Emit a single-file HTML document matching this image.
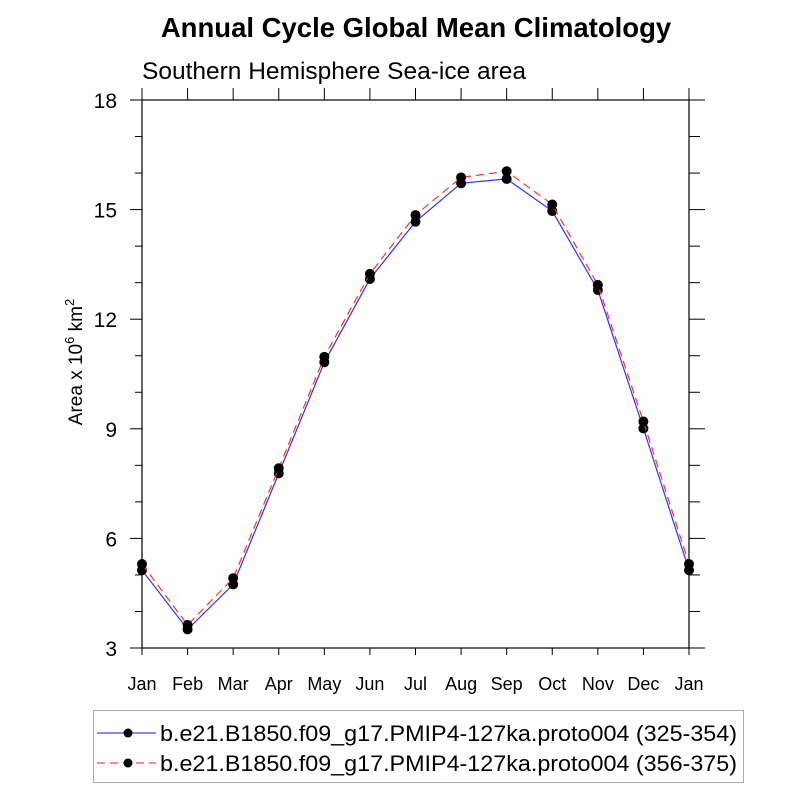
<!DOCTYPE html>
<html><head><meta charset="utf-8"><style>
body{margin:0;background:#fff;}
svg text{font-family:"Liberation Sans",sans-serif;fill:#000;}
</style></head><body>
<svg id="chart" width="800" height="800" viewBox="0 0 800 800">
<text x="416" y="37" text-anchor="middle" font-size="27.5" font-weight="bold">Annual Cycle Global Mean Climatology</text>
<text x="142" y="79" font-size="24.5">Southern Hemisphere Sea-ice area</text>
<g id="axes"></g>
<g id="series"></g>
<text transform="translate(82,362) rotate(-90)" text-anchor="middle" font-size="19">Area x 10<tspan dy="-8" font-size="13">6</tspan><tspan dy="8"> km</tspan><tspan dy="-8" font-size="13">2</tspan></text>
<g>
<rect x="93.5" y="710.5" width="650" height="72" fill="none" stroke="#aaa"/>
<line x1="97" y1="733" x2="156" y2="733" stroke="#4040ff" stroke-width="1.2"/>
<circle cx="128" cy="733" r="4.5" fill="#000"/>
<text x="160" y="741" textLength="577" lengthAdjust="spacingAndGlyphs" font-size="22.5">b.e21.B1850.f09_g17.PMIP4-127ka.proto004 (325-354)</text>
<line x1="97" y1="763" x2="156" y2="763" stroke="#ff4040" stroke-width="1.2" stroke-dasharray="8,5"/>
<circle cx="128" cy="763" r="4.5" fill="#000"/>
<text x="160" y="771" textLength="577" lengthAdjust="spacingAndGlyphs" font-size="22.5">b.e21.B1850.f09_g17.PMIP4-127ka.proto004 (356-375)</text>
</g>
</svg>
<script>
const months = ["Jan","Feb","Mar","Apr","May","Jun","Jul","Aug","Sep","Oct","Nov","Dec","Jan"];
const seriesA = [5.13,3.51,4.74,7.78,10.82,13.10,14.67,15.72,15.84,14.96,12.80,9.01,5.13];
const seriesB = [5.30,3.63,4.91,7.92,10.97,13.24,14.85,15.88,16.05,15.14,12.94,9.20,5.30];
const yTicks = [3,6,9,12,15,18];
const yMin = 3, yMax = 18;
const L=142, R=689, T=100, B=648;
const NS="http://www.w3.org/2000/svg";
function xs(i){return L+(R-L)*i/(months.length-1);}
function ys(v){return B-(B-T)*(v-yMin)/(yMax-yMin);}
function mk(tag,attrs,parent){const e=document.createElementNS(NS,tag);for(const k in attrs)e.setAttribute(k,attrs[k]);parent.appendChild(e);return e;}
const ax=document.getElementById('axes');
const frame=mk('rect',{x:L,y:T,width:R-L,height:B-T,fill:'none',stroke:'#000','stroke-width':1.2},ax);


for(let v=yMin;v<=yMax;v++){
  const major=yTicks.includes(v);const len=major?12:7;const y=ys(v);
  const t1=mk('line',{x1:L-len,y1:y,x2:L,y2:y,stroke:'#000','stroke-width':1},ax);
  
  
  const t2=mk('line',{x1:R,y1:y,x2:R+len+4,y2:y,stroke:'#000','stroke-width':1},ax);
  
  
}
yTicks.forEach(v=>{
  const t=mk('text',{x:L-25,y:ys(v)+8,'text-anchor':'end','font-size':21},ax);t.textContent=v;
  
  
});
months.forEach((m,i)=>{
  const x=xs(i);
  const t1=mk('line',{x1:x,y1:B,x2:x,y2:B+7,stroke:'#000','stroke-width':1},ax);
  
  
  const t2=mk('line',{x1:x,y1:T,x2:x,y2:T-12,stroke:'#000','stroke-width':1},ax);
  
  
  const t=mk('text',{x:x,y:690,'text-anchor':'middle','font-size':18},ax);t.textContent=m;
  
  
});
const sg=document.getElementById('series');
function draw(vals,color,dash,name){
  const pts=vals.map((v,i)=>xs(i)+','+ys(v)).join(' ');
  const pl=mk('polyline',{points:pts,fill:'none',stroke:color,'stroke-width':1.2,'stroke-dasharray':dash},sg);
  
  
  vals.forEach((v,i)=>{
    const c=mk('circle',{cx:xs(i),cy:ys(v),r:5,fill:'#000'},sg);
    
    
  });
}
draw(seriesA,'#3030ff','none','series-325-354');
draw(seriesB,'#ff3030','8,5','series-356-375');
</script>
</body></html>
